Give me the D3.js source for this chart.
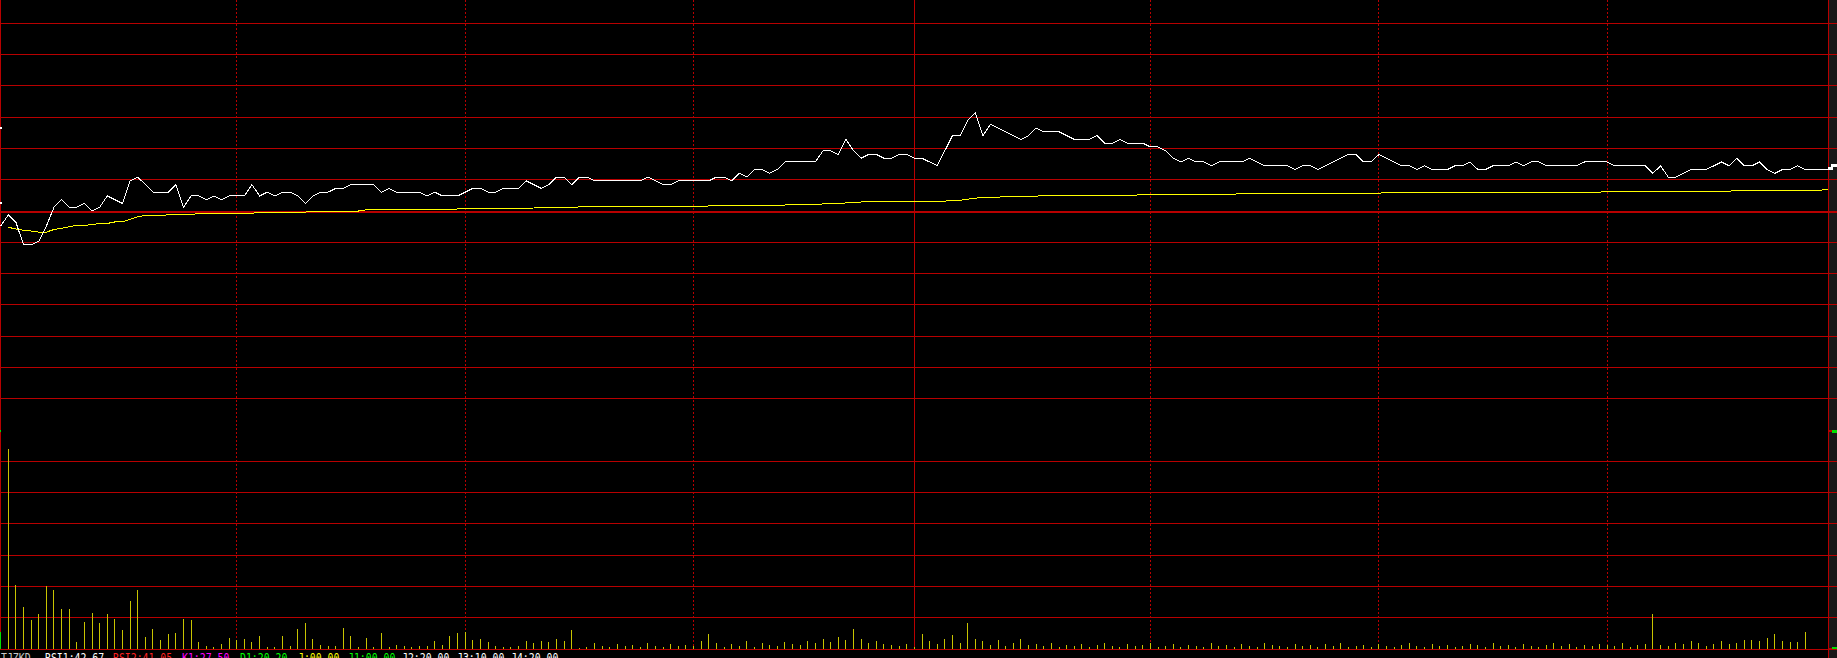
<!DOCTYPE html>
<html><head><meta charset="utf-8">
<script src="https://cdn.jsdelivr.net/npm/d3@7/dist/d3.min.js"></script>
<style>html,body{margin:0;padding:0;background:#000;overflow:hidden}svg{display:block}</style>
</head><body>
<svg id="c" width="1837" height="658"></svg>
<script>
// ---- DATA ----
// minute index 0..240 (price in ticks relative to previous close)
const priceTicks = [
-4,-1,-3,-9,-9,-8,-4,1,3,1,
1,2,0,1,4,3,2,8,9,7,
5,5,5,7,1,4,4,3,4,3,
4,4,4,7,4,5,4,5,5,4,
2,4,5,5,6,6,7,7,7,7,
5,6,5,5,5,5,4,5,4,4,
4,5,6,6,5,5,6,6,6,8,
7,6,7,9,9,7,9,9,8,8,
8,8,8,8,8,9,8,7,7,8,
8,8,8,8,9,9,8,10,9,11,
11,10,11,13,13,13,13,13,16,16,
15,19,16,14,15,15,14,14,15,15,
14,14,13,12,16,20,20,24,26,20,
23,22,21,20,19,20,22,21,21,21,
20,19,19,19,20,18,18,19,18,18,
18,17,17,16,14,13,14,13,13,12,
13,13,13,13,14,13,12,12,12,12,
11,12,12,11,12,13,14,15,15,13,
13,15,14,13,12,12,11,12,11,11,
11,12,12,13,11,11,12,12,12,13,
12,13,13,12,12,12,12,12,13,13,
13,13,12,12,12,12,12,10,12,9,
9,10,11,11,11,12,13,12,14,12,
12,13,11,10,11,11,12,11,11,11,
11];
// average price, minute index 1..240
const avgTicks = [
-4.3,-4.8,-5.1,-5.3,-5.6,-5.6,-4.9,-4.6,-4.2,-3.8,
-3.8,-3.6,-3.3,-3.3,-2.9,-2.9,-2.2,-1.5,-1.2,-1.2,
-1.2,-1.0,-1.0,-1.0,-1.0,-0.6,-0.6,-0.6,-0.6,-0.6,
-0.6,-0.6,-0.6,-0.3,-0.3,-0.3,-0.3,-0.3,-0.3,-0.3,
0,0,0,0,0,0,0,0.3,0.3,0.3,
0.3,0.3,0.3,0.3,0.3,0.3,0.3,0.3,0.3,0.55,
0.55,0.55,0.55,0.55,0.55,0.55,0.55,0.55,0.55,0.8,
0.8,0.8,0.8,0.8,0.8,1.1,1.1,1.1,1.1,1.1,
1.1,1.1,1.1,1.1,1.1,1.1,1.1,1.1,1.1,1.1,
1.1,1.1,1.35,1.35,1.35,1.35,1.35,1.35,1.35,1.35,
1.35,1.35,1.6,1.6,1.6,1.6,1.6,1.9,1.9,1.9,
2.15,2.15,2.4,2.4,2.4,2.4,2.4,2.4,2.4,2.4,
2.6,2.6,2.6,2.6,2.85,2.85,3.15,3.4,3.65,3.65,
3.65,3.9,3.9,3.9,3.9,3.9,4.2,4.2,4.2,4.2,
4.2,4.2,4.2,4.2,4.2,4.2,4.2,4.2,4.2,4.45,
4.45,4.45,4.45,4.45,4.45,4.45,4.45,4.45,4.45,4.45,
4.45,4.45,4.7,4.7,4.7,4.7,4.7,4.7,4.7,4.7,
4.7,4.7,4.7,4.7,4.7,4.7,4.7,4.7,4.7,4.7,
4.7,5.0,5.0,5.0,5.0,5.0,5.0,5.0,5.0,5.0,
5.0,5.0,5.0,5.0,5.0,5.0,5.0,5.0,5.0,5.0,
5.0,5.0,5.0,5.0,5.0,5.0,5.0,5.0,5.0,5.0,
5.25,5.25,5.25,5.25,5.25,5.25,5.25,5.25,5.25,5.25,
5.25,5.25,5.25,5.25,5.25,5.25,5.25,5.5,5.5,5.5,
5.5,5.5,5.5,5.5,5.5,5.5,5.5,5.5,5.5,5.8];
// volume, minute index 1..240
const volumes = [
200,64,42,29,35,63,59,40,40,7,
27,36,26,35,30,19,48,59,12,20,
9,15,16,30,29,7,3,2,5,11,
9,10,7,13,2,2,13,3,20,26,
10,4,3,3,21,13,2,11,2,16,
2,4,3,2,3,3,8,4,13,16,
17,9,10,7,3,2,2,3,8,6,
8,7,10,8,19,1,2,6,3,2,
5,3,4,2,6,3,2,5,3,4,
3,8,15,6,2,5,3,8,2,6,
4,3,7,5,4,8,6,10,7,12,
9,20,10,6,8,5,4,3,5,2,
15,8,5,10,14,6,26,10,8,4,
9,3,6,10,4,5,3,6,2,4,
3,5,2,4,6,3,2,5,3,4,
6,2,3,5,2,4,3,2,6,3,
4,2,5,3,2,6,4,3,2,5,
3,4,2,5,3,6,2,3,4,2,
5,3,2,4,6,3,2,5,3,4,
2,3,5,4,2,6,3,4,2,5,
3,2,4,6,3,5,2,4,3,5,
4,3,6,2,4,5,35,4,3,6,
5,8,6,3,5,8,5,6,9,9,
8,11,15,8,7,7,17,0,0,0];
const timeGridIdx = [31,61,91,151,181,211];
const sessionBreakIdx = 120;
const priceRange = 58.1;   // ticks from previous close to panel edge
const volRange = 219;
const gridDivisions = 14;
const volDivisions = 7;
const legendLabels = ["TJZKD","RSI1:42.67","RSI2:41.05","K1:27.50","D1:20.20","J:00.00","J1:00.00","J2:20.00","J3:10.00","J4:20.00"];

// ---- STYLE / LAYOUT ----
const W = 1837, H = 658;
const legendX = [1,45,113,182,240,298,348,402,457,511];
const legendColors = ["#c8c8c8","#ffffff","#ff2020","#ff00ff","#00ff00","#ffff00","#00ff00","#ffffff","#ffffff","#ffffff"];
const RED = "#b80000";

const svg = d3.select("#c");
svg.append("rect").attr("width",W).attr("height",H).attr("fill","#000");

const x = d3.scaleLinear().domain([0,240]).range([0.7,1828.1]);
const yP = d3.scaleLinear().domain([-priceRange,priceRange]).range([430,-8]);
const yV = d3.scaleLinear().domain([0,volRange]).range([649,430]);
const px = v => Math.floor(v + 1e-6);

// right grey strip
svg.append("rect").attr("x",1829).attr("y",0).attr("width",W-1829).attr("height",H).attr("fill","#181818");

const g = svg.append("g").attr("shape-rendering","crispEdges");

// price panel horizontal grid
const pLevels = d3.range(-gridDivisions/2+1, gridDivisions/2+1).map(k => k*priceRange/(gridDivisions/2));
pLevels.forEach(v => {
  const yy = px(yP(v));
  const thick = Math.abs(v) < 1e-9 || Math.abs(v - priceRange) < 1e-9;
  g.append("rect").attr("x",0).attr("y",yy).attr("width",W).attr("height",thick?2:1).attr("fill",RED);
});
// volume panel horizontal grid
d3.range(0, volDivisions).map(k => k*volRange/volDivisions).forEach(v => {
  const yy = px(yV(v));
  g.append("rect").attr("x",0).attr("y",yy).attr("width",W).attr("height",1).attr("fill",RED);
});

// vertical grid
timeGridIdx.forEach(i => {
  g.append("line").attr("x1",px(x(i))+0.5).attr("x2",px(x(i))+0.5).attr("y1",0).attr("y2",649)
    .attr("stroke",RED).attr("stroke-width",1).attr("stroke-dasharray","2,2");
});
g.append("rect").attr("x",px(x(sessionBreakIdx))).attr("y",0).attr("width",1).attr("height",650).attr("fill",RED);
g.append("rect").attr("x",0).attr("y",0).attr("width",1).attr("height",650).attr("fill",RED);
g.append("rect").attr("x",px(x(240))).attr("y",0).attr("width",1).attr("height",H).attr("fill",RED);

// volume bars
g.selectAll("rect.vol").data(volumes).enter().append("rect").attr("class","vol")
  .attr("x",(d,i)=>px(x(i+1))).attr("width",1)
  .attr("y",d=>Math.round(yV(d))).attr("height",d=>649-Math.round(yV(d)))
  .attr("fill","#c8c400");

// average line
const avgLine = d3.line().x((d,i)=>x(i+1)).y(d=>yP(d));
g.append("path").attr("d",avgLine(avgTicks)).attr("fill","none").attr("stroke","#ffff00").attr("stroke-width",1);

// price line
const priceLine = d3.line().x((d,i)=>x(i)).y(d=>yP(d));
g.append("path").attr("d",priceLine(priceTicks)).attr("fill","none").attr("stroke","#ffffff").attr("stroke-width",1);

// last price marker
const yl = yP(priceTicks[priceTicks.length-1]);
g.append("rect").attr("x",1828).attr("y",Math.round(yl-2.5)).attr("width",5).attr("height",3).attr("fill","#fff");
g.append("rect").attr("x",1831).attr("y",Math.round(yl-5.5)).attr("width",6).attr("height",3).attr("fill","#fff");

// left markers
g.append("rect").attr("x",0).attr("y",127).attr("width",2).attr("height",2).attr("fill","#fff");
g.append("rect").attr("x",0).attr("y",202).attr("width",2).attr("height",2).attr("fill","#fff");
g.append("rect").attr("x",0).attr("y",430).attr("width",1).attr("height",2).attr("fill","#00e000");
g.append("rect").attr("x",0).attr("y",632).attr("width",1).attr("height",17).attr("fill","#00e000");
// right markers
g.append("rect").attr("x",1829).attr("y",430).attr("width",3).attr("height",2).attr("fill",RED);
g.append("rect").attr("x",1832).attr("y",430).attr("width",5).attr("height",3).attr("fill","#00e000");
g.append("rect").attr("x",1829).attr("y",648).attr("width",3).attr("height",1).attr("fill",RED);
g.append("rect").attr("x",1832).attr("y",647).attr("width",5).attr("height",2).attr("fill","#00e000");

// legend
svg.selectAll("text.lg").data(legendLabels).enter().append("text").attr("class","lg")
  .attr("transform",(d,i)=>`translate(${legendX[i]},662) scale(0.82,1)`)
  .attr("fill",(d,i)=>legendColors[i])
  .attr("font-family","DejaVu Sans Mono, monospace").attr("font-size",12)
  .text(d=>d);
</script>
</body></html>
